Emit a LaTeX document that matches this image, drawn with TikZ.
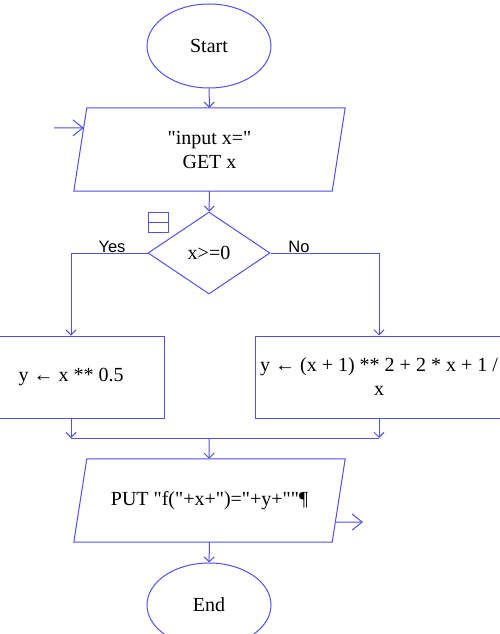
\documentclass[tikz,border=0pt]{standalone}
\usepackage{fontspec}
\newfontfamily\flowfont{Liberation Serif}
\newfontfamily\labelfont{Liberation Sans}
\usetikzlibrary{arrows.meta, positioning, shapes.geometric, calc}

\definecolor{flowblue}{RGB}{80,80,230}

\tikzset{
  every node/.style={font=\flowfont\fontsize{20}{24}\selectfont, text=black},
  terminal/.style={ellipse, draw=flowblue, line width=1pt, inner sep=0pt,
    minimum width=124, minimum height=84},
  % parallelogram: text box plus slanted outline
  iobox/.style={rectangle, inner sep=0pt, minimum width=258, minimum height=83, align=center,
    append after command={\pgfextra{\let\ionode\tikzlastnode
      \draw[flowblue, line width=1pt]
        ($(\ionode.south west)+(-6.5,0)$) -- ($(\ionode.north west)+(6.5,0)$) --
        ($(\ionode.north east)+(6.5,0)$) -- ($(\ionode.south east)+(-6.5,0)$) -- cycle;}}},
  decision/.style={diamond, draw=flowblue, line width=1pt, inner sep=0pt,
    minimum width=122, minimum height=82},
  process/.style={rectangle, draw=flowblue, line width=1pt, inner sep=0pt,
    minimum height=82, align=center},
  flow/.style={draw=flowblue, line width=1pt, -{Straight Barb[length=5pt,width=10pt]}},
  ioarrow/.style={draw=flowblue, line width=1pt, -{Straight Barb[length=10pt,width=16pt]}},
  branch/.style={font=\labelfont\fontsize{16.5}{18}\selectfont, inner sep=0pt, anchor=south}
}

\begin{document}
\begin{tikzpicture}[x=1pt, y=-1pt]
  \useasboundingbox (0,0) rectangle (500,634);

  % shapes
  \node[terminal] (start) at (209,46) {Start};
  \node[iobox] (input) at (209.5,149.5) {"input x="\\GET x};
  \node[decision] (cond) at (209,253) {x>=0};
  \node[process, minimum width=186] (yesbox) at (71,377) {y ← x ** 0.5};
  \node[process, minimum width=248] (nobox) at (379,377) {y ← (x + 1) ** 2 + 2 * x + 1 /\\x};
  \node[iobox] (output) at (209.5,500.5) {PUT "f("+x+")="+y+""¶};
  \node[terminal] (end) at (209,605) {End};

  % fold marker
  \node[draw=flowblue, line width=1pt, minimum width=20, minimum height=20, inner sep=0pt] (fold) at (158,222) {};
  \draw[flowblue, line width=1pt] (fold.west) -- (fold.east);

  % flow lines
  \draw[flow] (start) -- (input);
  \draw[flow] (input) -- (cond);
  \draw[flow] (cond.west) -| (yesbox.north);
  \draw[flow] (cond.east) -| (nobox.north);
  \node[branch] (yes) at (112,253) {Yes};
  \node[branch] (no) at (299,253) {No};

  \coordinate (merge) at (209,438);
  \draw[flow] (yesbox) -- (yesbox |- merge);
  \draw[flow] (nobox) -- (nobox |- merge);
  \draw[flowblue, line width=1pt] (yesbox |- merge) -- (nobox |- merge);
  \draw[flow] (merge) -- (output);
  \draw[flow] (output) -- (end);

  % in / out
  \coordinate (inarr) at (54,128);
  \coordinate (outarr) at (363,522);
  \draw[ioarrow] (inarr) -- ($(input.south west)!0.76!(input.north west)+(3.4,0)$);
  \draw[ioarrow] ($(output.south east)!0.24!(output.north east)+(-3.4,0)$) -- (outarr);
\end{tikzpicture}
\end{document}
